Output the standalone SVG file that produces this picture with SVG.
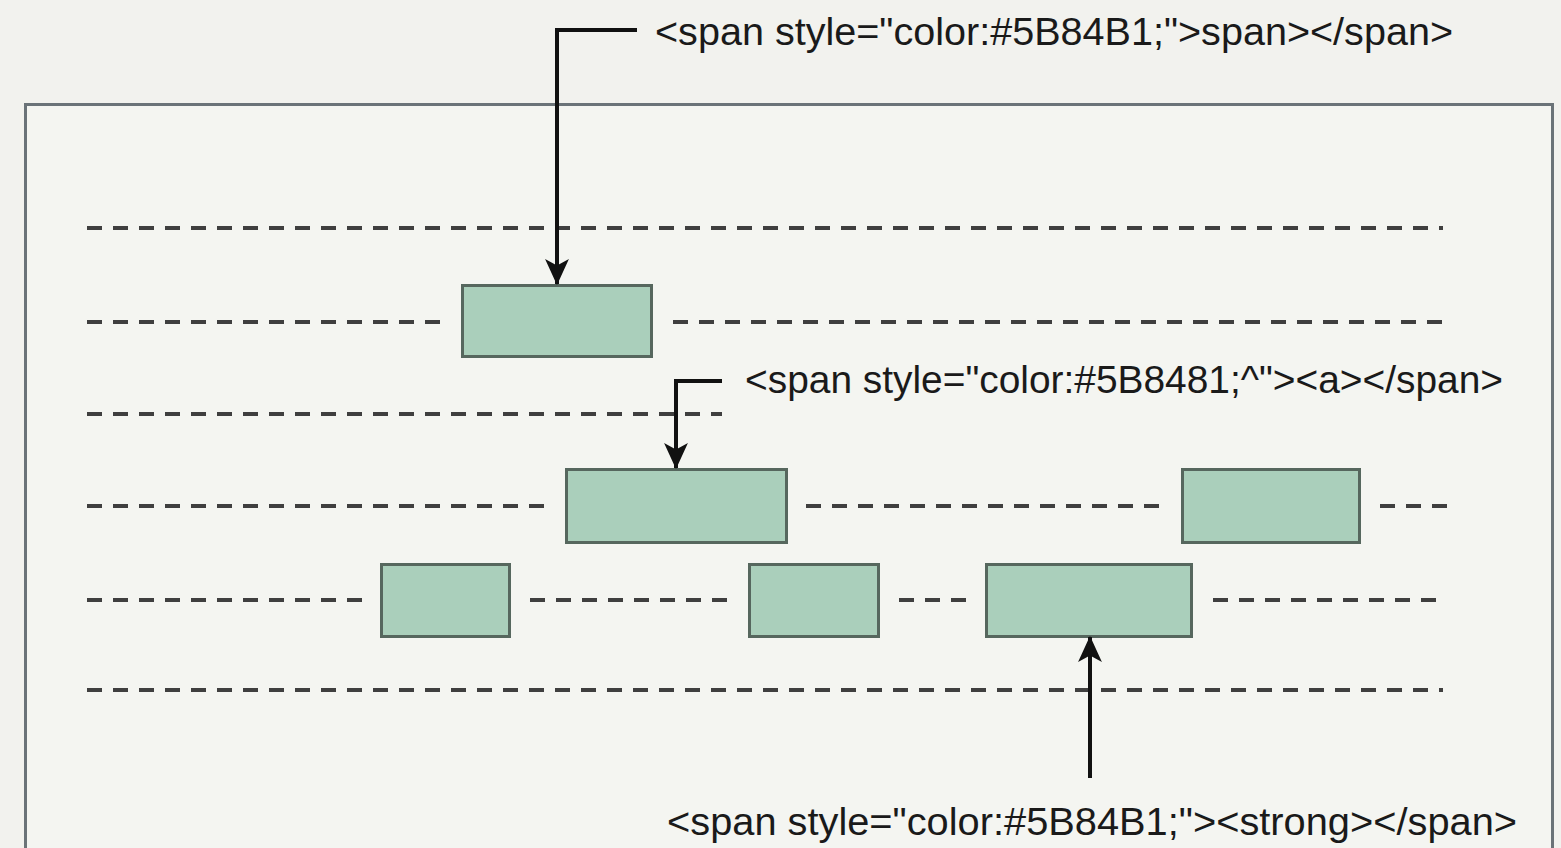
<svg xmlns="http://www.w3.org/2000/svg" width="1561" height="848" viewBox="0 0 1561 848">
<defs>
<style>
.dash{stroke:#3f3f3f;stroke-width:4;stroke-dasharray:15 11;fill:none}
.node{fill:#aacfbb;stroke:#56675e;stroke-width:3}
.conn{stroke:#111;stroke-width:4;fill:none}
.lbl{font-family:"Liberation Sans",Arial,sans-serif;font-size:38px;fill:#1a1a1a}
</style>
<marker id="ah" viewBox="0 0 24 24" refX="23" refY="12" markerWidth="26" markerHeight="26" markerUnits="userSpaceOnUse" orient="auto">
<path d="M0,1 L24,12 L0,23 L6,12 Z" fill="#111"/>
</marker>
</defs>
<rect width="1561" height="848" fill="#f2f2ee"/>
<rect x="25.5" y="104.5" width="1527" height="760" fill="#f4f5f1" stroke="#6b7378" stroke-width="3"/>
<g id="guides">
<line class="dash" x1="87" y1="228" x2="1443" y2="228"/>
<line class="dash" x1="87" y1="322" x2="443" y2="322"/>
<line class="dash" x1="673" y1="322" x2="1443" y2="322"/>
<line class="dash" x1="87" y1="414" x2="722" y2="414"/>
<line class="dash" x1="87" y1="506" x2="548" y2="506"/>
<line class="dash" x1="806" y1="506" x2="1163" y2="506"/>
<line class="dash" x1="1380" y1="506" x2="1448" y2="506"/>
<line class="dash" x1="87" y1="600" x2="365" y2="600"/>
<line class="dash" x1="530" y1="600" x2="730" y2="600"/>
<line class="dash" x1="899" y1="600" x2="968" y2="600"/>
<line class="dash" x1="1213" y1="600" x2="1438" y2="600"/>
<line class="dash" x1="87" y1="690" x2="1443" y2="690"/>
</g>
<g id="node-1"><rect class="node" x="462.5" y="285.5" width="189" height="71"/></g>
<g id="node-2"><rect class="node" x="566.5" y="469.5" width="220" height="73"/></g>
<g id="node-3"><rect class="node" x="1182.5" y="469.5" width="177" height="73"/></g>
<g id="node-4"><rect class="node" x="381.5" y="564.5" width="128" height="72"/></g>
<g id="node-5"><rect class="node" x="749.5" y="564.5" width="129" height="72"/></g>
<g id="node-6"><rect class="node" x="986.5" y="564.5" width="205" height="72"/></g>
<g id="connectors">
<polyline class="conn" points="637,30 557,30 557,284" marker-end="url(#ah)"/>
<polyline class="conn" points="722,381 676,381 676,468" marker-end="url(#ah)"/>
<polyline class="conn" points="1090,778 1090,637" marker-end="url(#ah)"/>
</g>
<g id="labels">
<text class="lbl" x="655" y="45" textLength="798" lengthAdjust="spacingAndGlyphs">&lt;span style="color:#5B84B1;"&gt;span&gt;&lt;/span&gt;</text>
<text class="lbl" x="745" y="393" textLength="758" lengthAdjust="spacingAndGlyphs">&lt;span style="color:#5B8481;^"&gt;&lt;a&gt;&lt;/span&gt;</text>
<text class="lbl" x="667" y="835" textLength="850" lengthAdjust="spacingAndGlyphs">&lt;span style="color:#5B84B1;"&gt;&lt;strong&gt;&lt;/span&gt;</text>
</g>
</svg>
